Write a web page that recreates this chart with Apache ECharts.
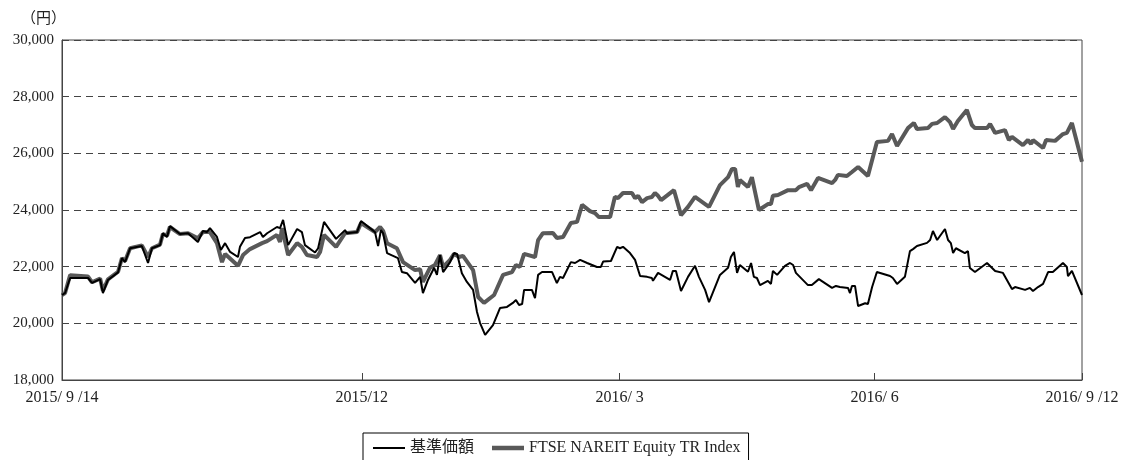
<!DOCTYPE html>
<html>
<head>
<meta charset="utf-8">
<script src="https://cdn.jsdelivr.net/npm/echarts@6/dist/echarts.min.js"></script>
<style>
	html, body { margin: 0; padding: 0; background: #fff; }
	#main { width: 1124px; height: 460px; }
</style>
</head>
<body>
<div id="main"></div>
<script>
// 2015/9/14 からの経過日数
var tickDays = [0, 107, 199, 290, 364];
var tickLabels = ['2015/ 9 /14', '2015/12', '2016/ 3', '2016/ 6', '2016/ 9 /12'];

// 基準価額
var navDays = [0, 1.1, 2.9, 9.3, 10.7, 13.6, 14.6, 16.4, 20.0, 21.4, 22.5, 24.3, 28.5, 30.7, 32.1, 35.0, 36.0, 37.5, 38.5, 42.1,
	45.0, 48.5, 50.3, 51.7, 52.8, 55.3, 56.7, 58.2, 60.0, 62.8, 63.5, 65.3, 67.1, 70.7, 71.7, 73.2, 76.7, 77.8, 78.9, 80.7,
	83.9, 85.6, 86.7, 90.3, 91.4, 93.5, 97.8, 101.0, 101.7, 105.3, 106.7, 111.7, 112.8, 113.8, 114.6, 116.0, 119.9, 121.3, 123.1, 126.0,
	127.8, 128.8, 130.6, 132.8, 133.8, 134.9, 136.0, 137.4, 138.5, 139.9, 141.0, 142.7, 144.5, 146.7, 148.1, 149.2, 151.0, 153.8, 156.3, 158.8,
	160.9, 162.0, 163.1, 164.2, 164.9, 167.7, 168.8, 169.9, 171.3, 174.9, 176.6, 177.7, 178.8, 181.6, 183.1, 184.9, 187.4, 190.9, 191.6, 192.3,
	193.1, 195.9, 198.1, 199.1, 200.2, 202.7, 204.5, 206.3, 208.8, 210.5, 210.9, 212.7, 217.0, 218.0, 219.1, 220.9, 223.4, 225.9, 227.3, 229.5,
	230.9, 234.8, 237.7, 238.7, 239.8, 240.9, 241.9, 244.8, 245.9, 246.9, 248.0, 249.1, 251.9, 253.0, 253.7, 255.2, 258.0, 259.8, 260.9, 261.9,
	262.6, 266.2, 267.6, 270.1, 274.8, 276.2, 277.6, 280.5, 281.2, 281.9, 283.0, 284.1, 286.6, 287.6, 289.1, 290.8, 295.5, 296.5, 298.0, 300.8,
	302.6, 303.7, 305.1, 308.7, 309.8, 310.8, 312.3, 315.1, 316.2, 317.2, 318.0, 319.0, 322.2, 323.3, 324.0, 325.8, 330.1, 333.0, 335.8, 339.0,
	340.1, 343.7, 345.4, 346.5, 348.3, 350.1, 351.9, 353.6, 357.2, 358.6, 359.0, 360.4, 364];
var navValues = [21000, 21070, 21600, 21600, 21430, 21560, 21070, 21530, 21800, 22300, 22160, 22650, 22730, 22130, 22650, 22760, 23180, 23050, 23430, 23150,
	23180, 22870, 23260, 23220, 23360, 23050, 22590, 22830, 22520, 22340, 22700, 23010, 23040, 23220, 23050, 23180, 23400, 23360, 23650, 22760,
	23330, 23220, 22760, 22500, 22650, 23580, 22980, 23290, 23180, 23220, 23610, 23220, 22730, 23290, 23180, 22480, 22300, 21810, 21770, 21430,
	21640, 21070, 21530, 21960, 21710, 22410, 21810, 22000, 22160, 22480, 22450, 21770, 21460, 21180, 20400, 20010, 19590, 19940, 20540, 20580,
	20720, 20820, 20650, 20680, 21180, 21180, 20890, 21710, 21810, 21810, 21420, 21640, 21600, 22160, 22130, 22240, 22130, 21990, 22060, 21990,
	22180, 22200, 22700, 22650, 22700, 22480, 22240, 21670, 21640, 21600, 21500, 21780, 21530, 21850, 21850, 21140, 21640, 22030, 21640, 21180,
	20750, 21710, 21960, 22340, 22520, 21780, 22060, 21820, 22130, 21640, 21600, 21350, 21500, 21390, 21850, 21710, 22030, 22130, 22060, 21780,
	21740, 21350, 21350, 21560, 21250, 21320, 21280, 21250, 21070, 21320, 21320, 20610, 20710, 20680, 21280, 21810, 21670, 21600, 21390, 21640,
	22550, 22620, 22730, 22840, 22940, 23260, 22940, 23330, 22940, 22830, 22480, 22650, 22480, 22550, 21950, 21810, 22130, 21850, 21780, 21210,
	21280, 21180, 21250, 21140, 21280, 21390, 21810, 21810, 22130, 21990, 21670, 21850, 21000];

// FTSE NAREIT Equity TR Index（円換算）
var idxDays = [0, 1.1, 2.9, 9.3, 10.7, 13.6, 14.6, 16.4, 20.0, 21.4, 22.5, 24.3, 28.5, 30.7, 32.1, 35.0, 36.0, 37.5, 38.5, 42.1,
	45.0, 48.5, 50.3, 52.8, 55.3, 57.1, 58.2, 62.8, 64.6, 67.1, 71.4, 73.2, 76.7, 77.8, 78.5, 80.7, 83.9, 85.6, 87.4, 91.0,
	92.1, 93.5, 97.8, 101.0, 105.3, 106.7, 111.7, 113.5, 114.6, 116.0, 119.5, 121.7, 126.0, 127.8, 128.8, 131.3, 133.1, 134.9, 136.0, 138.5,
	139.9, 141.7, 143.1, 146.7, 148.5, 150.6, 154.2, 157.4, 160.6, 162.0, 163.4, 164.9, 168.8, 169.9, 171.6, 175.2, 176.6, 178.8, 181.6, 183.8,
	185.6, 188.4, 190.2, 191.6, 195.6, 197.3, 198.4, 200.2, 203.4, 204.5, 205.6, 207.0, 208.8, 210.5, 211.6, 212.7, 213.8, 218.4, 220.9, 223.4,
	225.9, 229.5, 230.9, 234.8, 237.7, 239.1, 240.2, 241.2, 241.9, 244.8, 246.2, 248.7, 251.9, 253.0, 253.7, 255.5, 259.1, 261.9, 263.0, 265.9,
	267.3, 269.8, 274.8, 275.9, 276.9, 280.1, 281.9, 282.6, 284.1, 287.6, 290.8, 294.8, 296.2, 298.0, 301.9, 304.0, 305.1, 309.0, 310.5, 312.3,
	315.1, 316.9, 318.0, 319.7, 322.9, 324.7, 325.8, 330.1, 331.2, 333.0, 336.5, 337.9, 339.0, 342.9, 344.7, 345.8, 346.5, 350.1, 351.2, 354.4,
	357.2, 358.6, 360.4, 364];
var idxValues = [21000, 21070, 21700, 21650, 21450, 21580, 21150, 21550, 21820, 22300, 22200, 22650, 22750, 22340, 22650, 22780, 23150, 23100, 23400, 23150,
	23180, 23000, 23220, 23220, 22830, 22160, 22450, 22030, 22410, 22620, 22830, 22900, 23120, 22870, 23360, 22410, 22830, 22700, 22410, 22340,
	22520, 23120, 22700, 23180, 23220, 23540, 23220, 23400, 23260, 22830, 22650, 22160, 21880, 21910, 21460, 21960, 22060, 22410, 21990, 22240,
	22450, 22340, 22380, 21880, 20930, 20720, 21000, 21710, 21810, 22060, 21990, 22450, 22340, 22940, 23180, 23190, 23010, 23050, 23540, 23580,
	24180, 23960, 23890, 23750, 23750, 24460, 24420, 24600, 24600, 24420, 24500, 24280, 24420, 24460, 24600, 24500, 24350, 24700, 23820, 24110,
	24460, 24210, 24110, 24880, 25160, 25450, 25450, 24810, 25060, 24810, 25160, 24000, 24210, 24210, 24500, 24530, 24700, 24700, 24810, 24920,
	24700, 25130, 24950, 25060, 25240, 25200, 25340, 25300, 25520, 25200, 26400, 26440, 26680, 26260, 26890, 27070, 26860, 26890, 27040, 27070,
	27280, 27100, 26860, 27140, 27530, 27000, 26890, 26890, 27040, 26720, 26820, 26470, 26580, 26290, 26470, 26330, 26470, 26190, 26470, 26440,
	26680, 26720, 27070, 25700];

var FONT = "'Liberation Serif', 'Noto Sans CJK JP', serif";

function pairs(xs, ys){
	var out = [];
	for (var i = 0; i < xs.length; i++) {
		out.push([xs[i], ys[i]]);
	}
	return out;
}

function addCommas(v){
	return String(v).replace(/\B(?=(\d{3})+(?!\d))/g, ',');
}

function drawChart(){
	var myChart = echarts.init(document.getElementById('main'));
	var option = {
		animation: false,
		backgroundColor: '#fff',
		textStyle: { fontFamily: FONT },
		title: {
			text: '（円）',
			left: 16,
			top: 7,
			textStyle: { fontFamily: FONT, fontSize: 15, fontWeight: 'normal', color: '#222' }
		},
		legend: {
			data: [
				{ name: '基準価額', icon: 'path://M0,0H32V2H0Z' },
				{ name: 'FTSE NAREIT Equity TR Index', icon: 'path://M0,0H32V4.5H0Z' }
			],
			left: 363,
			top: 433,
			padding: [7, 8, 8, 10],
			itemGap: 18,
			itemWidth: 32,
			itemHeight: 14,
			borderColor: '#000',
			borderWidth: 1,
			borderRadius: 0,
			textStyle: { fontFamily: FONT, fontSize: 16, color: '#222' }
		},
		grid: {
			left: 62,
			right: 42,
			top: 40,
			bottom: 80,
			show: true,
			borderColor: '#444',
			borderWidth: 1
		},
		xAxis: {
			type: 'value',
			min: 0,
			max: 364,
			axisLine: { show: true, lineStyle: { color: '#444', width: 1 } },
			axisTick: {
				show: true,
				inside: true,
				length: 7,
				customValues: tickDays,
				lineStyle: { color: '#444' }
			},
			axisLabel: {
				customValues: tickDays,
				showMinLabel: true,
				showMaxLabel: true,
				margin: 10,
				fontSize: 16,
				color: '#222',
				fontFamily: FONT,
				formatter: function(v){
					var i = tickDays.indexOf(v);
					return i >= 0 ? tickLabels[i] : '';
				}
			},
			splitLine: { show: false }
		},
		yAxis: {
			type: 'value',
			min: 18000,
			max: 30000,
			interval: 2000,
			axisLine: { show: true, lineStyle: { color: '#444', width: 1 } },
			axisTick: { show: false },
			axisLabel: {
				margin: 8,
				fontSize: 15,
				color: '#222',
				fontFamily: FONT,
				formatter: function(v){ return addCommas(v); }
			},
			splitLine: {
				show: true,
				lineStyle: { color: '#444', width: 1, type: [7, 5] }
			}
		},
		series: [{
			name: 'FTSE NAREIT Equity TR Index',
			type: 'line',
			data: pairs(idxDays, idxValues),
			symbol: 'none',
			z: 2,
			lineStyle: { color: '#595959', width: 4 },
			itemStyle: { color: '#595959' }
		}, {
			name: '基準価額',
			type: 'line',
			data: pairs(navDays, navValues),
			symbol: 'none',
			z: 3,
			lineStyle: { color: '#000', width: 2 },
			itemStyle: { color: '#000' }
		}]
	};
	myChart.setOption(option);
}

drawChart();
</script>
</body>
</html>
